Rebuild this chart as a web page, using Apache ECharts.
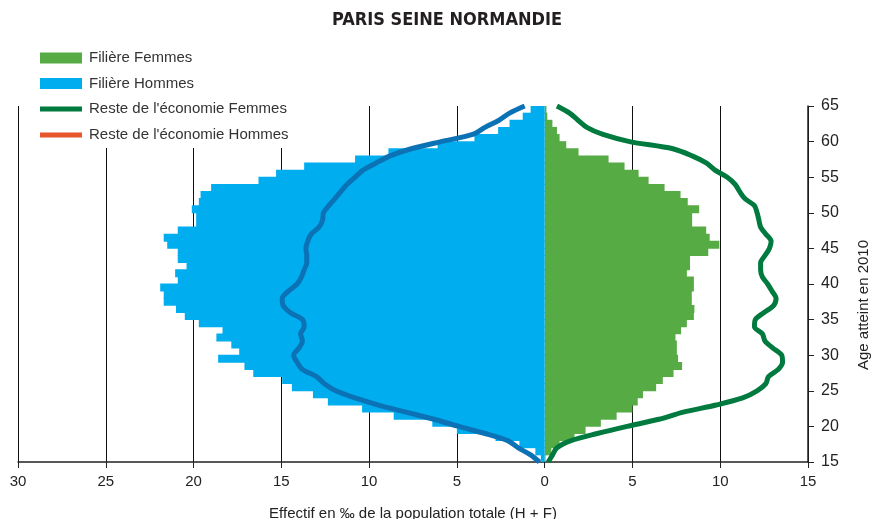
<!DOCTYPE html>
<html>
<head>
<meta charset="utf-8">
<script src="https://cdn.jsdelivr.net/npm/echarts@6/dist/echarts.min.js"></script>
<style>
  html, body { margin: 0; padding: 0; background: #fff; }
  #main { width: 871px; height: 519px; }
</style>
</head>
<body>
<div id="main"></div>
<script>
// age bands 15..64 (one bar per year)
var ages = [];
for (var a = 15; a <= 64; a++) ages.push(String(a));

// Filière, in ‰ of total population
var filiereHommes = [0.22, 0.53, 1.44, 2.8, 5.0, 6.4, 8.6, 10.4, 12.35, 13.2,
  14.4, 14.95, 16.6, 17.1, 18.6, 17.4, 17.85, 18.7, 18.35, 19.7,
  20.5, 21.0, 21.7, 21.7, 21.9, 20.9, 21.05, 20.4, 20.9, 20.9,
  21.5, 21.7, 20.9, 19.85, 19.85, 20.1, 19.7, 19.6, 19.0, 16.3,
  15.3, 13.7, 10.8, 8.9, 6.1, 4.0, 2.65, 2.0, 1.25, 0.8];
var filiereFemmes = [0.05, 0.38, 0.85, 1.7, 2.33, 3.2, 4.1, 5.0, 5.3, 5.6,
  6.35, 6.73, 7.34, 7.83, 7.6, 7.53, 7.53, 7.45, 7.77, 8.1,
  8.5, 8.53, 8.38, 8.38, 8.5, 8.5, 8.1, 8.28, 8.28, 9.32,
  9.95, 9.4, 9.2, 8.4, 8.4, 8.8, 8.15, 7.74, 6.83, 5.92,
  5.35, 4.55, 3.64, 1.93, 1.23, 0.85, 0.7, 0.44, 0.15, 0.1];

// rest of the economy, ages 15..65
var lineAges = [];
for (var b = 15; b <= 65; b++) lineAges.push(b);
var resteFemmes = [0.2, 0.45, 0.7, 1.5, 3.0, 4.7, 6.5, 7.9, 9.77, 11.28,
  12.1, 12.6, 12.75, 13.3, 13.55, 13.5, 13.0, 12.55, 12.4, 11.95,
  12.0, 12.5, 13.05, 13.18, 12.95, 12.7, 12.4, 12.3, 12.3, 12.55,
  12.8, 12.9, 12.6, 12.3, 12.2, 12.1, 11.95, 11.4, 11.1, 10.85,
  10.4, 9.7, 9.2, 8.4, 7.3, 4.84, 3.32, 2.4, 1.9, 1.42, 0.7];
var resteHommes = [0.3, 0.8, 1.5, 2.1, 3.4, 4.9, 6.3, 7.9, 9.47, 10.8,
  11.9, 12.55, 13.0, 13.8, 14.1, 14.3, 14.0, 13.8, 13.9, 13.7,
  13.8, 14.5, 14.9, 14.95, 14.6, 14.1, 13.85, 13.7, 13.55, 13.55,
  13.6, 13.5, 13.3, 12.85, 12.65, 12.6, 12.3, 11.95, 11.6, 11.25,
  10.8, 10.35, 9.6, 8.8, 7.6, 5.9, 4.1, 3.4, 2.6, 2.0, 1.14];

var FONT = "'Liberation Sans', Arial, sans-serif";

var chart = echarts.init(document.getElementById('main'));

// vertical grid lines every 5, none drawn at 0 (hidden by the bars)
var gridColors = ['#111', '#111', '#111', '#111', '#111', '#111', 'rgba(0,0,0,0)', '#111', '#111', '#111'];

var option = {
  backgroundColor: '#fff',
  animation: false,
  title: {
    text: 'PARIS SEINE NORMANDIE',
    left: 327,
    top: 6,
    textStyle: {
      fontFamily: "'DejaVu Sans Condensed', 'Liberation Sans Narrow', 'Liberation Sans', sans-serif",
      fontWeight: 'bold',
      fontSize: 18,
      color: '#231f20'
    }
  },
  legend: [
    {
      data: ['Filière Femmes', 'Filière Hommes'],
      orient: 'vertical',
      left: 35,
      top: 45,
      padding: 5,
      icon: 'rect',
      itemWidth: 42,
      itemHeight: 11,
      itemGap: 9.5,
      backgroundColor: '#fff',
      itemStyle: { borderWidth: 0 },
      textStyle: { fontFamily: FONT, fontSize: 15, color: '#333', lineHeight: 16, padding: [0, 0, 0, 2] }
    },
    {
      data: [
        { name: "Reste de l'économie Femmes" },
        { name: "Reste de l'économie Hommes", itemStyle: { color: '#e8572b' } }
      ],
      orient: 'vertical',
      left: 35,
      top: 96,
      padding: 5,
      icon: 'rect',
      itemWidth: 42,
      itemHeight: 5,
      itemGap: 10,
      backgroundColor: '#fff',
      itemStyle: { borderWidth: 0 },
      textStyle: { fontFamily: FONT, fontSize: 15, color: '#333', lineHeight: 16, padding: [0, 0, 0, 2] }
    }
  ],
  grid: { left: 18, right: 63, top: 106, bottom: 57, outerBoundsMode: 'none', containLabel: false },
  xAxis: {
    type: 'value',
    min: -30,
    max: 15,
    interval: 5,
    name: 'Effectif en ‰ de la population totale (H + F)',
    nameLocation: 'middle',
    nameGap: 44,
    nameTextStyle: { fontFamily: FONT, fontSize: 15, color: '#222' },
    axisLine: { show: true, onZero: false, lineStyle: { color: '#222', width: 1.5 } },
    axisTick: { show: true, length: 6, lineStyle: { color: '#222' } },
    axisLabel: {
      fontFamily: FONT, fontSize: 15, color: '#222', margin: 12,
      formatter: function (v) { return Math.abs(v); }
    },
    splitLine: { show: true, lineStyle: { color: gridColors, width: 1 } }
  },
  yAxis: [
    {
      type: 'category',
      data: ages,
      show: false,
      boundaryGap: true
    },
    {
      type: 'value',
      position: 'right',
      min: 15,
      max: 65,
      interval: 5,
      name: 'Age atteint en 2010',
      nameLocation: 'middle',
      nameRotate: 90,
      nameGap: 48,
      nameTextStyle: { fontFamily: FONT, fontSize: 15, color: '#222', padding: [0, 42, 0, 0] },
      axisLine: { show: true, lineStyle: { color: '#222', width: 1.5 } },
      axisTick: { show: true, length: 6, lineStyle: { color: '#222' } },
      axisLabel: { fontFamily: FONT, fontSize: 16, color: '#222', margin: 13 },
      splitLine: { show: false }
    }
  ],
  series: [
    {
      name: 'Filière Femmes',
      type: 'bar',
      yAxisIndex: 0,
      barWidth: 8,
      barGap: '-100%',
      itemStyle: { color: '#57ab45' },
      data: filiereFemmes
    },
    {
      name: 'Filière Hommes',
      type: 'bar',
      yAxisIndex: 0,
      barWidth: 8,
      barGap: '-100%',
      itemStyle: { color: '#00adee' },
      data: filiereHommes.map(function (v) { return -v; })
    },
    {
      name: "Reste de l'économie Femmes",
      type: 'line',
      yAxisIndex: 1,
      symbol: 'none',
      smooth: 0.3,
      lineStyle: { color: '#007a3e', width: 5 },
      itemStyle: { color: '#007a3e' },
      data: lineAges.map(function (a, i) { return [resteFemmes[i], a]; }),
      z: 5
    },
    {
      name: "Reste de l'économie Hommes",
      type: 'line',
      yAxisIndex: 1,
      symbol: 'none',
      smooth: 0.3,
      lineStyle: { color: '#0b72b5', width: 5 },
      itemStyle: { color: '#0b72b5' },
      data: lineAges.map(function (a, i) { return [-resteHommes[i], a]; }),
      z: 5
    }
  ]
};

chart.setOption(option);
</script>
</body>
</html>
